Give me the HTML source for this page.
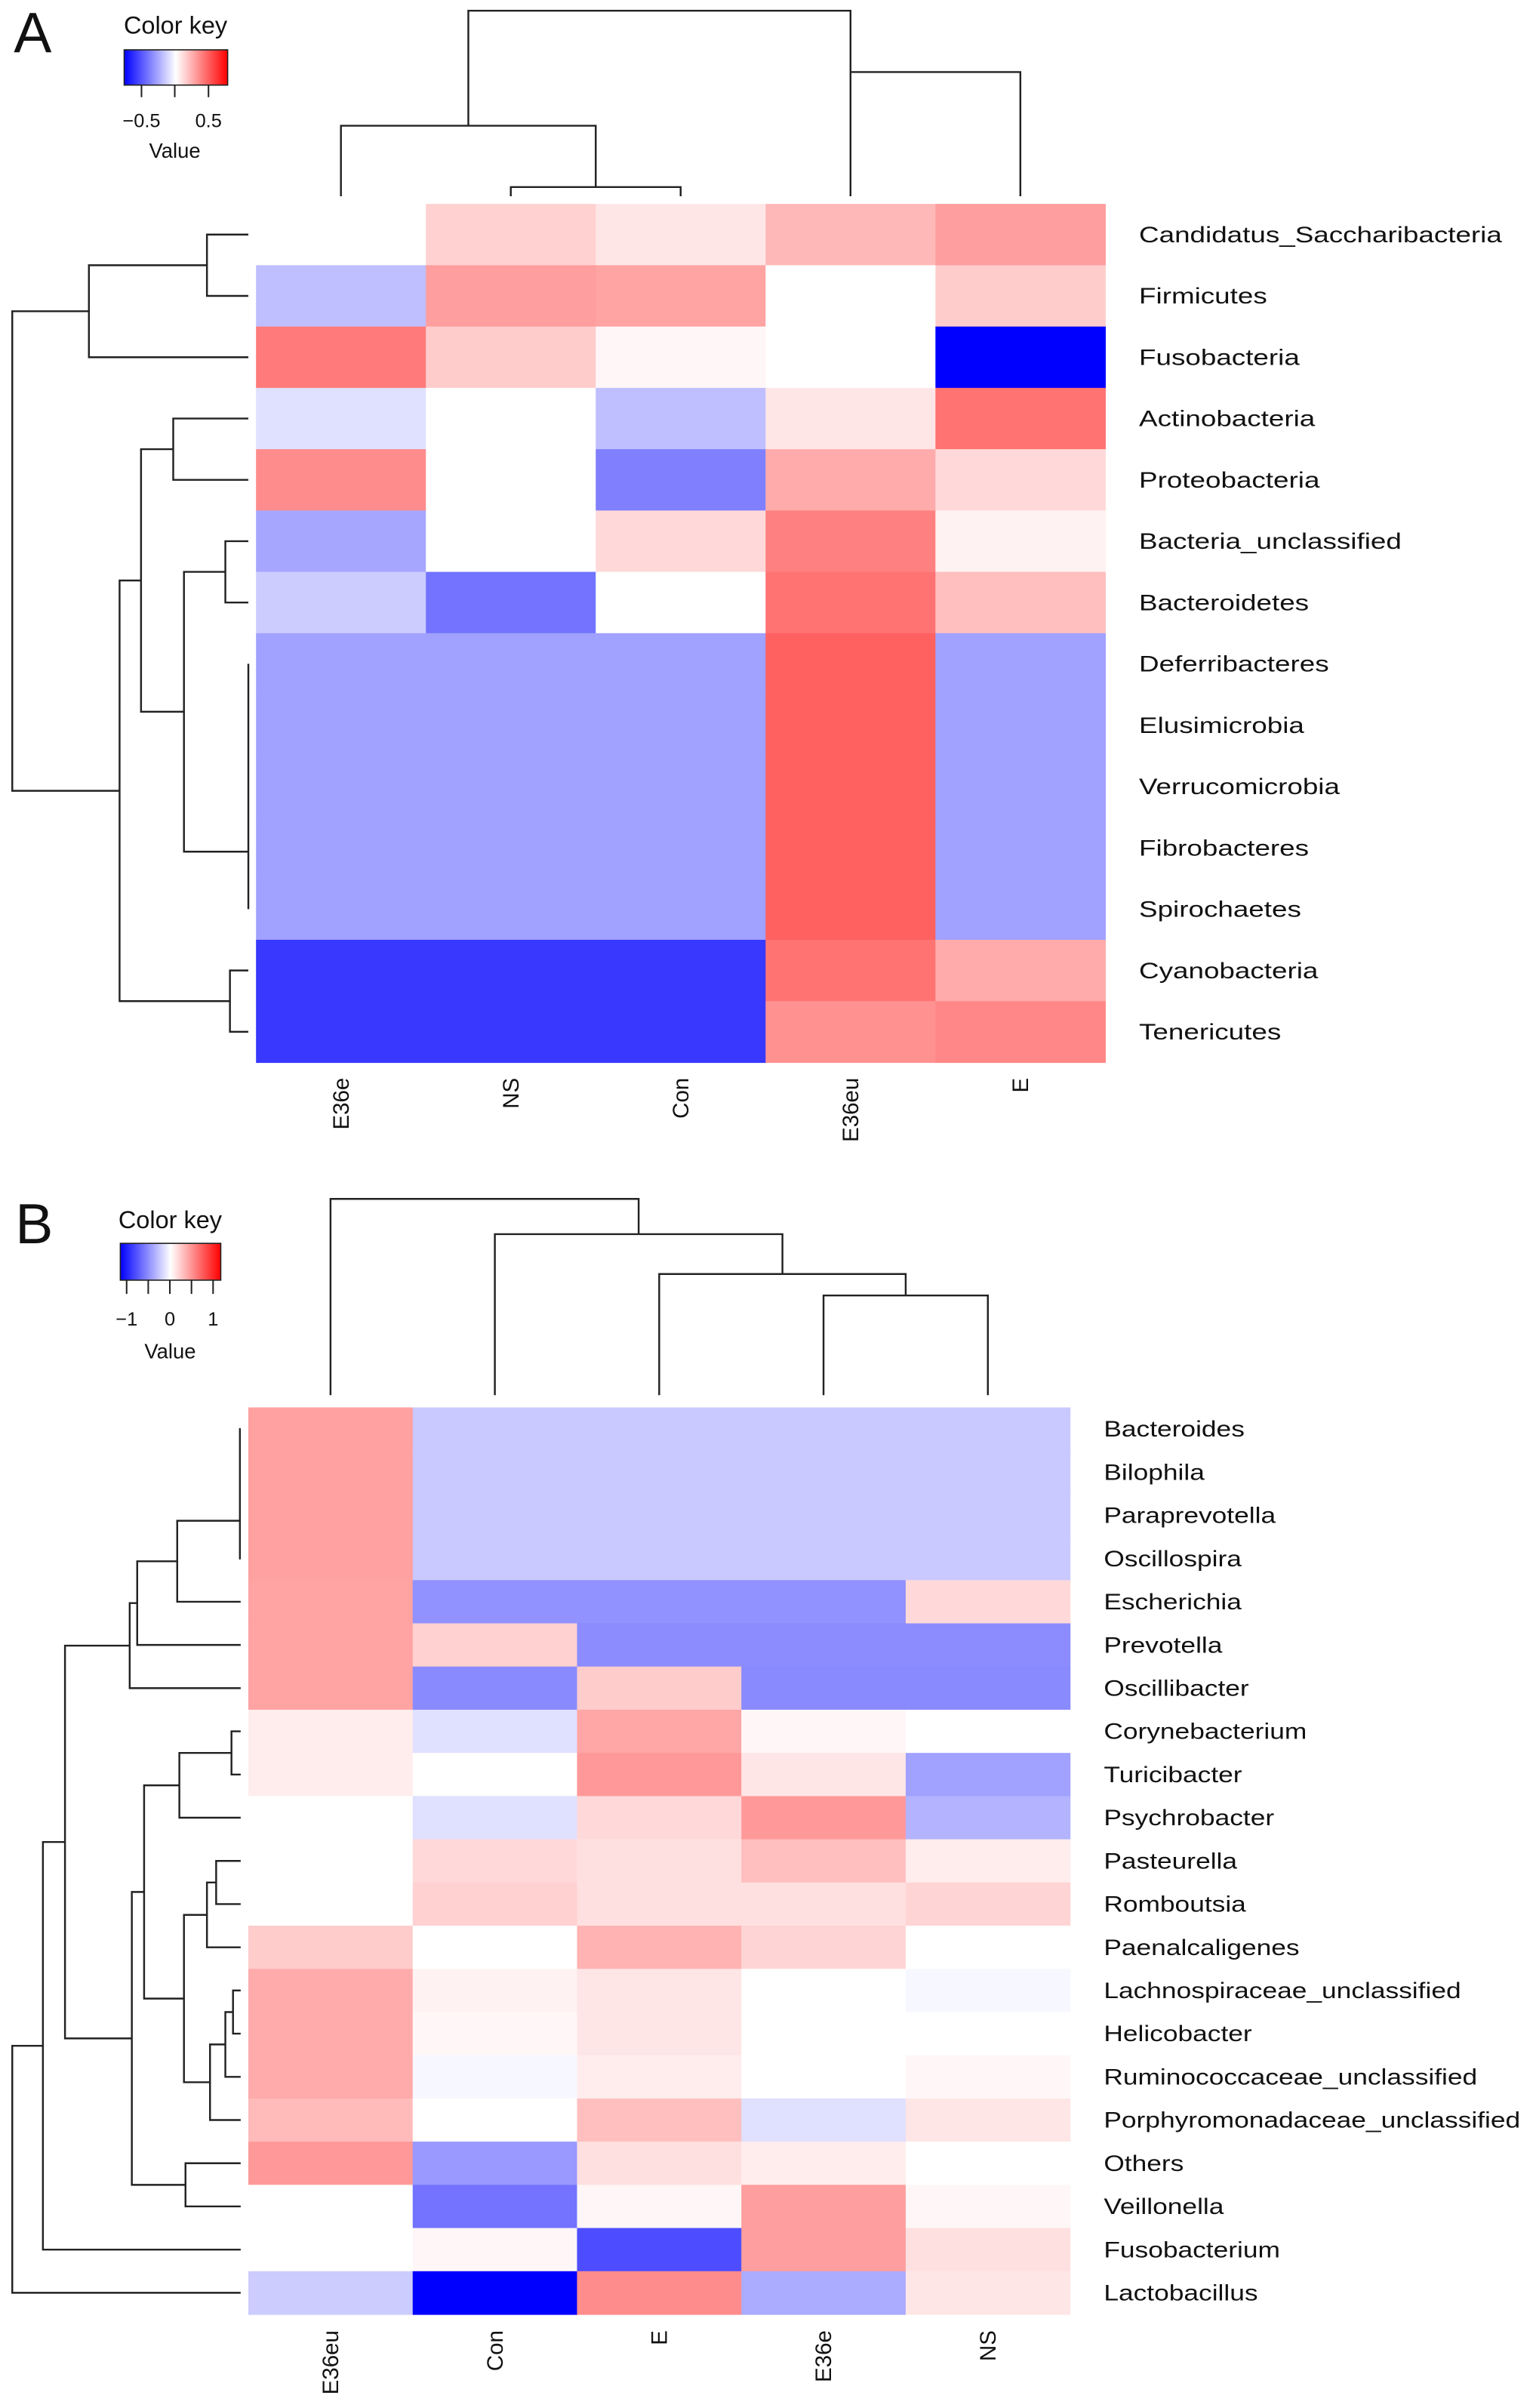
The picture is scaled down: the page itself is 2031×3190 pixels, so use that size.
<!DOCTYPE html>
<html><head><meta charset="utf-8"><style>
html,body{margin:0;padding:0;background:#fff;}
svg{display:block;}
text{font-family:"Liberation Sans",Arial,sans-serif;fill:#111;}
</style></head><body>
<svg id="root" width="2031" height="3190" viewBox="0 0 2031 3190" xmlns="http://www.w3.org/2000/svg">
<defs>
<linearGradient id="gk" x1="0" x2="1" y1="0" y2="0">
<stop offset="0" stop-color="#0000ff"/><stop offset="0.5" stop-color="#ffffff"/><stop offset="1" stop-color="#ff0000"/>
</linearGradient>
</defs>
<g id="main" transform="scale(2.031)">
<g>
<text x="9" y="34" font-size="37">A</text>
<text x="114.5" y="22" font-size="16" text-anchor="middle">Color key</text>
<rect x="81" y="32.5" width="67.5" height="23" fill="url(#gk)" stroke="#222" stroke-width="0.8"/>
<path d="M92.3 55.5V63.4M114 55.5V63.4M136 55.5V63.4" stroke="#222" stroke-width="1"/>
<text x="92.3" y="83" font-size="12.5" text-anchor="middle">−0.5</text>
<text x="136" y="83" font-size="12.5" text-anchor="middle">0.5</text>
<text x="114" y="103" font-size="13.5" text-anchor="middle">Value</text>
</g>
<g>
<text x="10" y="811" font-size="37">B</text>
<text x="111" y="801" font-size="16" text-anchor="middle">Color key</text>
<rect x="78.5" y="811" width="65.5" height="24" fill="url(#gk)" stroke="#222" stroke-width="0.8"/>
<path d="M82.6 835V844M96.7 835V844M110.8 835V844M124.9 835V844M139 835V844" stroke="#222" stroke-width="1"/>
<text x="82.6" y="864.7" font-size="12.5" text-anchor="middle">−1</text>
<text x="110.8" y="864.7" font-size="12.5" text-anchor="middle">0</text>
<text x="139" y="864.7" font-size="12.5" text-anchor="middle">1</text>
<text x="111" y="886" font-size="13.5" text-anchor="middle">Value</text>
</g>
<g id="panelA"></g>
<g id="panelB"></g>
</g>
</svg>
<script>
// ---------- Panel A data ----------
const colsA = ["E36e","NS","Con","E36eu","E"];
const rowsA = ["Candidatus_Saccharibacteria","Firmicutes","Fusobacteria","Actinobacteria","Proteobacteria","Bacteria_unclassified","Bacteroidetes","Deferribacteres","Elusimicrobia","Verrucomicrobia","Fibrobacteres","Spirochaetes","Cyanobacteria","Tenericutes"];
const valuesA = [
 [0,0.18,0.1,0.28,0.38],
 [-0.25,0.38,0.36,0,0.2],
 [0.52,0.2,0.03,0,-1],
 [-0.12,0,-0.25,0.1,0.55],
 [0.45,0,-0.5,0.33,0.15],
 [-0.35,0,0.15,0.5,0.05],
 [-0.2,-0.55,0,0.55,0.25],
 [-0.37,-0.37,-0.37,0.62,-0.37],
 [-0.37,-0.37,-0.37,0.62,-0.37],
 [-0.37,-0.37,-0.37,0.62,-0.37],
 [-0.37,-0.37,-0.37,0.62,-0.37],
 [-0.37,-0.37,-0.37,0.62,-0.37],
 [-0.78,-0.78,-0.78,0.55,0.33],
 [-0.78,-0.78,-0.78,0.43,0.47]
];
// merges: [childA, childB, height, optional anchor-leaf index]
const rowMergesA = [[0,1,135],["n0",2,58],[3,4,113],[5,6,147],[7,8,162],["n4",9,162],["n5",10,162],["n6",11,162],["n3","n7",120],["n2","n8",92],[12,13,150],["n9","n10",78],["n1","n11",8]];
const colMergesA = [[1,2,122],["n0",0,82],[3,4,47,3],["n1","n2",7]];

// ---------- Panel B data ----------
const colsB = ["E36eu","Con","E","E36e","NS"];
const rowsB = ["Bacteroides","Bilophila","Paraprevotella","Oscillospira","Escherichia","Prevotella","Oscillibacter","Corynebacterium","Turicibacter","Psychrobacter","Pasteurella","Romboutsia","Paenalcaligenes","Lachnospiraceae_unclassified","Helicobacter","Ruminococcaceae_unclassified","Porphyromonadaceae_unclassified","Others","Veillonella","Fusobacterium","Lactobacillus"];
const valuesB = [
 [0.37,-0.21,-0.21,-0.21,-0.21],
 [0.37,-0.21,-0.21,-0.21,-0.21],
 [0.37,-0.21,-0.21,-0.21,-0.21],
 [0.37,-0.21,-0.21,-0.21,-0.21],
 [0.36,-0.43,-0.43,-0.43,0.15],
 [0.36,0.18,-0.45,-0.45,-0.45],
 [0.36,-0.46,0.2,-0.46,-0.46],
 [0.07,-0.12,0.35,0.03,0],
 [0.07,0,0.4,0.1,-0.37],
 [0,-0.12,0.15,0.4,-0.3],
 [0,0.15,0.12,0.25,0.07],
 [0,0.18,0.12,0.12,0.17],
 [0.2,0,0.3,0.17,0],
 [0.33,0.05,0.1,0,-0.03],
 [0.33,0.03,0.1,0,0],
 [0.33,-0.03,0.07,0,0.03],
 [0.27,0,0.25,-0.12,0.1],
 [0.4,-0.4,0.12,0.07,0],
 [0,-0.55,0.03,0.38,0.03],
 [0,0.03,-0.7,0.38,0.12],
 [-0.2,-1,0.45,-0.33,0.1]
];
const rowMergesB = [[0,1,156.5],["n0",2,156.5],["n1",3,156.5],["n2",4,115.6],["n3",5,89.5],["n4",6,84.6],
 [7,8,151],["n6",9,117],[10,11,141],["n8",12,135],[13,14,152],["n10",15,147],["n11",16,137],["n9","n12",120],["n7","n13",94],
 [17,18,121],["n14","n15",86],["n5","n16",42.4],["n17",19,28],["n18",20,8]];
const colMergesB = [[3,4,845],[2,"n0",831],[1,"n1",805],[0,"n2",782]];

const NS="http://www.w3.org/2000/svg";
function colorOf(v){
  v=Math.max(-1,Math.min(1,v));
  let r,g,b;
  if(v>=0){r=255;g=Math.round(255*(1-v));b=g;}else{b=255;r=Math.round(255*(1+v));g=r;}
  return `rgb(${r},${g},${b})`;
}
function mk(tag,parent,attrs){const e=document.createElementNS(NS,tag);for(const k in attrs)e.setAttribute(k,attrs[k]);parent.appendChild(e);return e;}

function drawPanel(g,cfg){
  const {cols,rows,vals,x0,x1,y0,y1,labelX,labelStretch,rowMerges,colMerges,leafRowX,leafColY,colLabelY,prefix}=cfg;
  const cw=(x1-x0)/cols.length, rh=(y1-y0)/rows.length;
  const xScale=i=>x0+cw*i, yScale=j=>y0+rh*j;
  const cells=mk('g',g,{});
  
  
  rows.forEach((rn,j)=>cols.forEach((cn,i)=>{
    const r=mk('rect',cells,{x:xScale(i),y:yScale(j),width:cw+0.3,height:rh+0.3,fill:colorOf(vals[j][i])});
    
    
  }));
  rows.forEach((rn,j)=>{
    const ty=yScale(j+0.5)+5;
    const t=mk('text',g,{x:0,y:0,'font-size':14.5,transform:`translate(${labelX} ${ty}) scale(${labelStretch} 1)`});
    t.textContent=rn;
    
    
  });
  cols.forEach((cn,i)=>{
    const cx=xScale(i+0.5)+5;
    const t=mk('text',g,{x:cx,y:colLabelY,'font-size':14.5,'text-anchor':'end',transform:`rotate(-90 ${cx} ${colLabelY})`});
    t.textContent=cn;
    
    
  });
  function dendro(merges,leafPos,leafEnd,horizontal,name){
    const pos={},h={};
    let d='';
    const get=c=>typeof c==='number'?[leafPos(c),leafEnd]:[pos[c],h[c]];
    merges.forEach((m,k)=>{
      const [pa,ha]=get(m[0]),[pb,hb]=get(m[1]),L=m[2];
      if(horizontal){
        d+=`M${ha} ${pa}H${L}V${pb}H${hb}`;
      }else{
        d+=`M${pa} ${ha}V${L}H${pb}V${hb}`;
      }
      pos['n'+k]=(m.length>3)?leafPos(m[3]):(pa+pb)/2;h['n'+k]=L;
    });
    const p=mk('path',g,{d:d,fill:'none',stroke:'#222','stroke-width':1.2});
    
    
  }
  dendro(rowMerges,j=>yScale(j+0.5),leafRowX,true,prefix+'-row-dendrogram');
  dendro(colMerges,i=>xScale(i+0.5),leafColY,false,prefix+'-column-dendrogram');
}
drawPanel(document.getElementById('panelA'),{cols:colsA,rows:rowsA,vals:valuesA,x0:167,x1:721,y0:133,y1:693,labelX:743,labelStretch:1.25,rowMerges:rowMergesA,colMerges:colMergesA,leafRowX:162,leafColY:128,colLabelY:703,prefix:'panel-a'});
drawPanel(document.getElementById('panelB'),{cols:colsB,rows:rowsB,vals:valuesB,x0:162,x1:698,y0:918,y1:1509.6,labelX:720,labelStretch:1.2,rowMerges:rowMergesB,colMerges:colMergesB,leafRowX:157,leafColY:910,colLabelY:1520,prefix:'panel-b'});
</script>
</body></html>
